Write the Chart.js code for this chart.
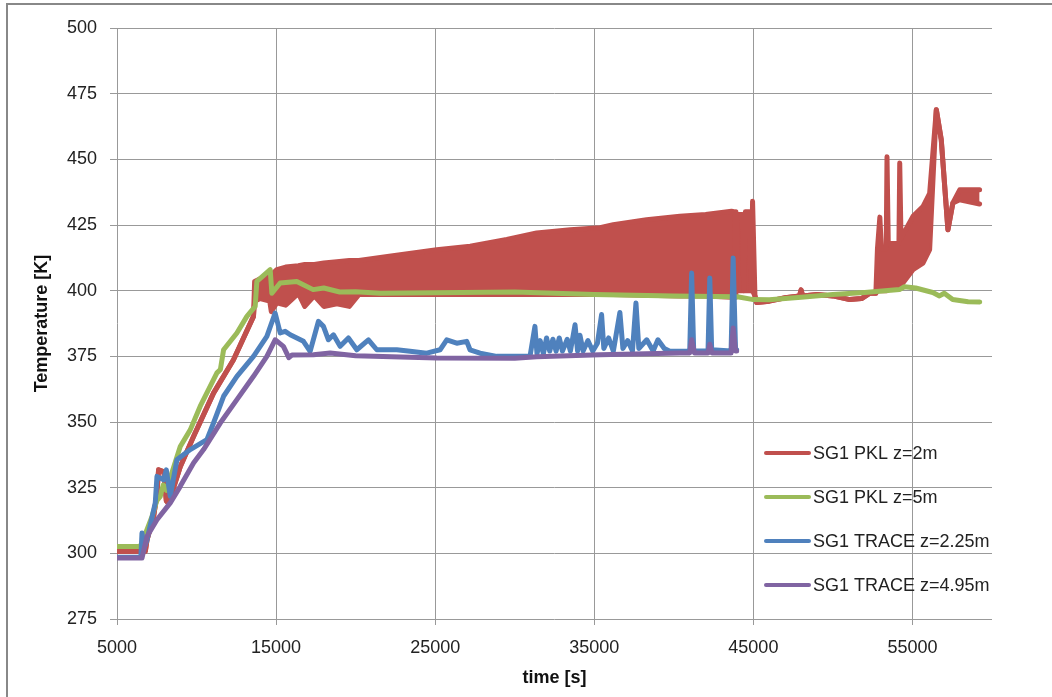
<!DOCTYPE html>
<html>
<head>
<meta charset="utf-8">
<script src="https://cdn.jsdelivr.net/npm/chart.js@4"></script>
<style>
  html, body { margin: 0; padding: 0; background: #fff; }
  #wrap { position: relative; width: 1052px; height: 697px; }
</style>
</head>
<body>
<div id="wrap"><canvas id="chart" width="1052" height="697"></canvas></div>
<script>
// axis ticks
var xTicks = [5000, 15000, 25000, 35000, 45000, 55000];
var yTicks = [275, 300, 325, 350, 375, 400, 425, 450, 475, 500];

var seriesNames = ['SG1 PKL z=2m', 'SG1 PKL z=5m', 'SG1 TRACE z=2.25m', 'SG1 TRACE z=4.95m'];

// SG1 PKL z=2m : lower and upper edge of the oscillating band
var redTime = [5000, 6780, 6884, 7300, 7500, 7613, 7950, 8100, 8240, 8976, 9811, 11067, 12323, 13580,
  13650, 14000, 14600, 14700, 15050, 15600, 16400, 16800, 17400, 18000, 18820, 19600, 20200, 22000,
  25100, 27200, 29500, 31380, 33500, 35360, 36190, 38290, 40380, 42000, 43630, 43850, 43900, 44000,
  44300, 44400, 44500, 44750, 44850, 44950, 45100, 45200, 46000, 47000, 47900, 48000, 48100, 49000,
  50000, 51060, 51800, 52300, 52700, 52800, 52950, 53050, 53350, 53400, 53480, 54150, 54200, 54280,
  55030, 55660, 56080, 56500, 56810, 57230, 57540, 57970, 59220];
var redLow = [300.7, 300.7, 305, 314, 322, 331.8, 331, 320, 319, 333, 344.5, 361, 373.7, 390.2,
  396, 397, 396, 392, 395.4, 394.5, 399, 394, 398, 394, 395, 394, 398.5, 398.5,
  398.5, 398.5, 398.5, 398.5, 398.5, 398.5, 398.5, 398.3, 398, 398, 397.5, 397.5, 400, 400,
  400, 400, 400, 400, 400, 400, 398, 395.5, 396, 397.3, 398, 400.3, 398, 398.5,
  398, 396.6, 397, 399, 399, 400, 400, 400, 400, 400, 401, 401, 401, 402,
  408, 410.5, 415.6, 468.9, 457.5, 423.2, 433.4, 434.6, 433];
var redHigh = [300.7, 300.7, 305, 314, 322, 331.8, 331, 320, 319, 333, 344.5, 361, 373.7, 390.2,
  403.5, 404.5, 406, 406, 408, 409, 409.5, 410, 410, 410.5, 411, 411.5, 411.5, 413,
  415.6, 416.9, 419.5, 422, 423.2, 424, 425.1, 427, 428.3, 429, 430.2, 430, 400, 429,
  429, 400, 430, 430, 400, 434, 398, 395.5, 396, 397.3, 398, 400.3, 398, 398.5,
  398, 396.6, 397, 399, 399, 416, 428, 416, 416, 451, 418, 418, 448.6, 420,
  428.3, 432, 437, 468.9, 457.5, 423.2, 433.4, 438.4, 438.4];

// SG1 PKL z=5m
var greenTime = [5000, 6464, 6884, 7198, 7500, 7720, 7900, 8100, 8976, 9604, 10232, 11281, 11500, 11700,
  12537, 13165, 13686, 13790, 14629, 14735, 15257, 16300, 17330, 18000, 19000, 20000, 21540, 25000,
  30000, 35000, 40000, 44000, 45000, 46000, 48000, 50000, 52000, 54180, 54500, 55200, 56280, 56700,
  57000, 57530, 58500, 59230];
var greenTemp = [302.6, 302.6, 309, 314, 320, 321.7, 326, 324, 340.7, 347, 356, 368.7, 370, 377.5,
  383.9, 390.2, 394, 403.5, 408, 399, 402.9, 403.5, 400.4, 401, 399.5, 399.6, 399, 399.2,
  399.5, 398.5, 398, 397.7, 396.6, 396.5, 397.5, 398.5, 399.3, 400.4, 401.5, 401, 399.3, 398,
  399, 396.6, 395.8, 395.7];

// SG1 TRACE z=2.25m
var blueTime = [5000, 6500, 6570, 6700, 6884, 7405, 7512, 7927, 8100, 8348, 8768, 9604, 10650, 11067,
  11700, 12537, 13580, 14420, 14940, 15257, 15571, 15890, 16720, 17140, 17660, 17977, 18290, 18605,
  19025, 19547, 20074, 20803, 21330, 22587, 23420, 24470, 25307, 25727, 26355, 26984, 27190, 27820,
  28870, 30960, 31270, 31400,
  31600, 31800, 32000, 32200, 32400, 32600, 32800, 33000, 33300, 33500, 33790, 33950, 34100, 34300,
  34600, 34900, 35200, 35460, 35600, 35900, 36200, 36610, 36800, 37100, 37400, 37620, 37800, 38300,
  38700, 39000, 39400, 39750, 41000, 41120, 41250, 42150, 42260, 42380, 43600, 43730, 43880, 43950];
var blueTemp = [298.5, 298.5, 307.7, 302, 305, 319.2, 329.3, 328, 331.8, 321.7, 335.6, 339.5, 343.3, 349.6,
  359.8, 367.4, 375, 382.6, 391.5, 383.9, 384.5, 383.2, 380.7, 376.9, 388.3, 386.4, 381.3, 383.2,
  378.8, 382, 377.5, 381.3, 377.5, 377.5, 376.9, 376.2, 377.5, 381.3, 380, 380.7, 377.5, 376.2,
  375, 375, 386.4, 376,
  381, 376, 382, 377, 381.5, 377, 382, 377, 381.5, 377, 387, 377, 383, 377,
  381, 377, 380, 390.9, 378, 382, 377, 391.7, 378, 381, 377, 395.3, 378, 381.3,
  377, 381.3, 378, 376.9, 376.9, 406.7, 377, 377, 404.8, 377.5, 377, 412.4, 377.5, 377.5];

// SG1 TRACE z=4.95m
var purpleTime = [5000, 6570, 6884, 7512, 8348, 8976, 9811, 10440, 11490, 12537, 13580, 14420, 14940, 15460,
  15800, 16000, 17350, 18400, 20000, 25100, 30000, 31380, 35360, 40380, 41000, 41120, 41300, 42150,
  42260, 42400, 43600, 43730, 43880, 43950];
var purpleTemp = [298.2, 298.2, 306.4, 312.8, 319.2, 325.5, 334.4, 339.5, 349.6, 358.5, 367.4, 375, 381.3, 378.8,
  374.5, 375.5, 375.6, 376.3, 375.2, 374.4, 374.3, 374.8, 375.6, 376.3, 376.3, 381.3, 376.3, 376.3,
  379.6, 376.3, 376.3, 385.8, 377, 377];

var colors = ['#C0504D', '#9BBB59', '#4F81BD', '#8064A2'];
var FONT = 'Liberation Sans';

function pts(xs, ys) {
  return xs.map(function (x, i) { return { x: x, y: ys[i] }; });
}

function lineSet(label, data, color, order) {
  return {
    label: label, data: data, borderColor: color, backgroundColor: color,
    borderWidth: 5, pointRadius: 0, tension: 0, fill: false, order: order,
    borderJoinStyle: 'round', borderCapStyle: 'round'
  };
}

var datasets = [
  lineSet(seriesNames[0], pts(redTime, redLow), colors[0], 5),
  lineSet(seriesNames[1], pts(greenTime, greenTemp), colors[1], 3),
  lineSet(seriesNames[2], pts(blueTime, blueTemp), colors[2], 2),
  lineSet(seriesNames[3], pts(purpleTime, purpleTemp), colors[3], 1)
];
// upper edge of the red band, filled down to the red line
var band = lineSet('', pts(redTime, redHigh), colors[0], 4);
band.fill = 0;
datasets.push(band);

// frame around the chart
var framePlugin = {
  id: 'frame',
  beforeDraw: function (chart) {
    var ctx = chart.ctx;
    ctx.save();
    ctx.fillStyle = '#fff';
    ctx.fillRect(0, 0, chart.width, chart.height);
    ctx.strokeStyle = '#888';
    ctx.lineWidth = 2;
    ctx.strokeRect(7, 4, chart.width + 10, chart.height + 10);
    ctx.restore();
  }
};

// legend drawn inside the plot, lower right
var legendPlugin = {
  id: 'insideLegend',
  afterDatasetsDraw: function (chart) {
    var ctx = chart.ctx;
    ctx.save();
    ctx.font = '18px "' + FONT + '"';
    ctx.textBaseline = 'middle';
    ctx.fillStyle = '#222';
    for (var i = 0; i < seriesNames.length; i++) {
      var y = 453 + i * 44;
      ctx.strokeStyle = colors[i];
      ctx.lineWidth = 4;
      ctx.lineCap = 'round';
      ctx.beginPath();
      ctx.moveTo(766, y);
      ctx.lineTo(809, y);
      ctx.stroke();
      ctx.fillText(seriesNames[i], 813, y + 1);
    }
    ctx.restore();
  }
};

new Chart(document.getElementById('chart'), {
  type: 'line',
  data: { datasets: datasets },
  plugins: [framePlugin, legendPlugin],
  options: {
    responsive: false,
    animation: false,
    layout: { padding: { left: 0, top: 28, right: 60, bottom: 0 } },
    plugins: { legend: { display: false }, tooltip: { enabled: false } },
    scales: {
      x: {
        type: 'linear', min: 5000, max: 60000,
        afterBuildTicks: function (s) { s.ticks = xTicks.map(function (v) { return { value: v }; }); },
        afterFit: function (s) { s.height = 78; },
        grid: { color: '#999', lineWidth: 1, tickLength: 6 },
        border: { display: false },
        ticks: { color: '#222', padding: 12, maxRotation: 0, autoSkip: false,
          callback: function (v) { return String(v); },
          font: { family: FONT, size: 18 } },
        title: { display: true, text: 'time [s]', color: '#111', padding: { top: 0, bottom: 8 },
          font: { family: FONT, size: 18, weight: 'bold' } }
      },
      y: {
        min: 275, max: 500,
        afterBuildTicks: function (s) { s.ticks = yTicks.map(function (v) { return { value: v }; }); },
        afterFit: function (s) { s.width = 117; },
        grid: { color: '#999', lineWidth: 1, tickLength: 7 },
        border: { display: false },
        ticks: { color: '#222', padding: 13, callback: function (v) { return String(v); },
          font: { family: FONT, size: 18 } },
        title: { display: true, text: 'Temperature [K]', color: '#111', padding: { top: 31, bottom: 0 },
          font: { family: FONT, size: 18, weight: 'bold' } }
      }
    }
  }
});
</script>
</body>
</html>
